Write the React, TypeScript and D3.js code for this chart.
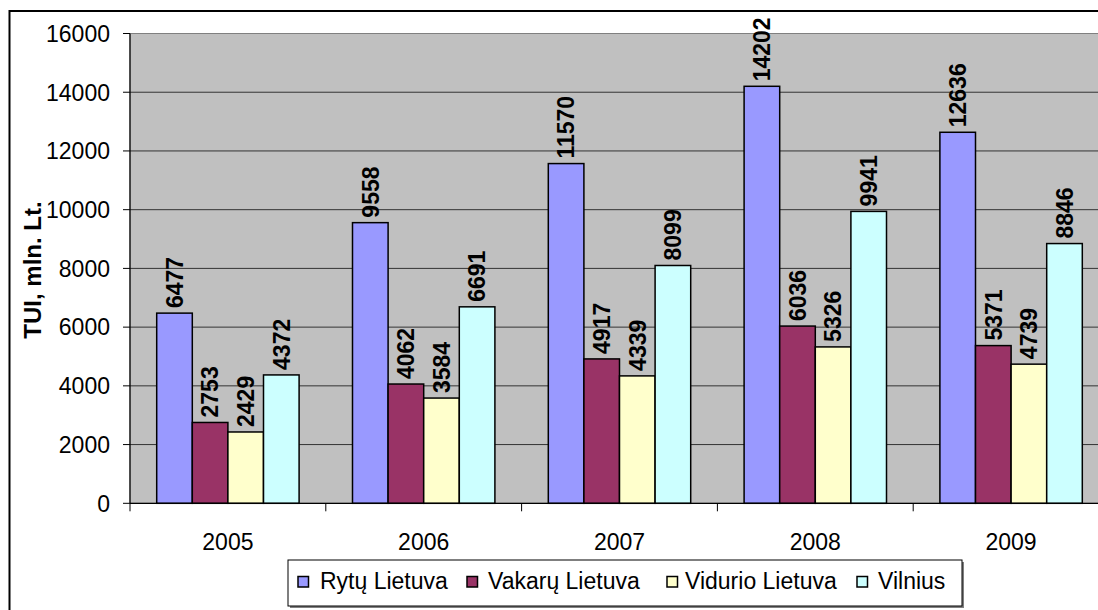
import React from "react";
import * as d3 from "d3";

const years = ["2005", "2006", "2007", "2008", "2009"];
const seriesNames = ["Rytų Lietuva", "Vakarų Lietuva", "Vidurio Lietuva", "Vilnius"];
const rytu = [6477, 9558, 11570, 14202, 12636];
const vakaru = [2753, 4062, 4917, 6036, 5371];
const vidurio = [2429, 3584, 4339, 5326, 4739];
const vilnius = [4372, 6691, 8099, 9941, 8846];
const yTicks = [0, 2000, 4000, 6000, 8000, 10000, 12000, 14000, 16000];
const colors = ["#9999FF", "#993366", "#FFFFCC", "#CCFFFF"];

const W = 1098;
const H = 610;
const plotLeft = 130;
const plotTop = 33.5;
const plotBottom = 503.3;
const catW = 195.8;
const plotRight = plotLeft + catW * years.length;

export default function App() {
  const series = [rytu, vakaru, vidurio, vilnius];
  const x0 = d3.scaleBand<string>().domain(years).range([plotLeft, plotRight]).paddingInner(0).paddingOuter(0);
  // Excel gap width 150%: group occupies 4/(4+1.5) of category
  const x1 = d3
    .scaleBand<string>()
    .domain(seriesNames)
    .range([catW * 0.75 / 5.5, catW - (catW * 0.75) / 5.5])
    .padding(0);
  const y = d3.scaleLinear().domain([0, 16000]).range([plotBottom, plotTop]);
  const font = "Arial, 'Liberation Sans', sans-serif";

  const legendItems = [
    { name: seriesNames[0], mx: 298, tx: 320 },
    { name: seriesNames[1], mx: 467, tx: 488 },
    { name: seriesNames[2], mx: 667, tx: 685 },
    { name: seriesNames[3], mx: 857, tx: 878 },
  ];

  return (
    <svg
      width={W}
      height={H}
      style={{ position: "absolute", left: 0, top: 0, background: "#fff" }}
      fontFamily={font}
    >
      {/* outer frame */}
      <rect x={9.5} y={11} width={W + 20} height={H + 20} fill="#fff" stroke="#000" strokeWidth={2} />
      {/* plot area */}
      <rect x={plotLeft} y={plotTop} width={plotRight - plotLeft} height={plotBottom - plotTop} fill="#C0C0C0" stroke="#808080" strokeWidth={1} />
      {/* gridlines & y ticks */}
      {yTicks.map((t) => (
        <g key={t}>
          {t > 0 && t < 16000 && (
            <line x1={plotLeft} x2={plotRight} y1={y(t)} y2={y(t)} stroke="#333" strokeWidth={1} />
          )}
          <line x1={plotLeft - 7} x2={plotLeft} y1={y(t)} y2={y(t)} stroke="#000" strokeWidth={1} />
          <text x={110} y={y(t)} dy="0.36em" textAnchor="end" fontSize={23} fill="#000">
            {t}
          </text>
        </g>
      ))}
      {/* bars */}
      {years.map((yr, i) => (
        <g key={yr} transform={`translate(${x0(yr)},0)`}>
          {series.map((s, j) => {
            const bx = x1(seriesNames[j])!;
            const bw = x1.bandwidth();
            return (
              <g key={j}>
                <rect
                  x={bx}
                  y={y(s[i])}
                  width={bw}
                  height={plotBottom - y(s[i])}
                  fill={colors[j]}
                  stroke="#000"
                  strokeWidth={1.5}
                />
                <text
                  transform={`translate(${bx + bw / 2},${y(s[i]) - 5}) rotate(-90)`}
                  dy="0.36em"
                  textAnchor="start"
                  fontSize={23}
                  fontWeight="bold"
                  fill="#000"
                >
                  {s[i]}
                </text>
              </g>
            );
          })}
        </g>
      ))}
      {/* axes */}
      <line x1={plotLeft} x2={plotLeft} y1={plotTop} y2={plotBottom} stroke="#000" strokeWidth={1.2} />
      <line x1={plotLeft} x2={plotRight} y1={plotBottom} y2={plotBottom} stroke="#000" strokeWidth={1.2} />
      {years.map((yr, i) => (
        <line key={"ct" + i} x1={x0(yr)!} x2={x0(yr)!} y1={plotBottom} y2={plotBottom + 8} stroke="#000" strokeWidth={1} />
      ))}
      {years.map((yr) => (
        <text key={"xl" + yr} x={x0(yr)! + catW / 2} y={550} textAnchor="middle" fontSize={23} fill="#000">
          {yr}
        </text>
      ))}
      {/* y title */}
      <text transform="translate(41,270) rotate(-90)" textAnchor="middle" fontSize={24} fontWeight="bold" fill="#000">
        TUI, mln. Lt.
      </text>
      {/* legend */}
      <rect x={290} y={562} width={674} height={46} fill="#808080" />
      <rect x={288} y={560} width={674} height={46} fill="#fff" stroke="#000" strokeWidth={1} />
      {legendItems.map((it, j) => (
        <g key={it.name}>
          <rect x={it.mx} y={576.5} width={10.5} height={10.5} fill={colors[j]} stroke="#000" strokeWidth={1.5} />
          <text x={it.tx} y={589} fontSize={23} fill="#000">
            {it.name}
          </text>
        </g>
      ))}
    </svg>
  );
}
